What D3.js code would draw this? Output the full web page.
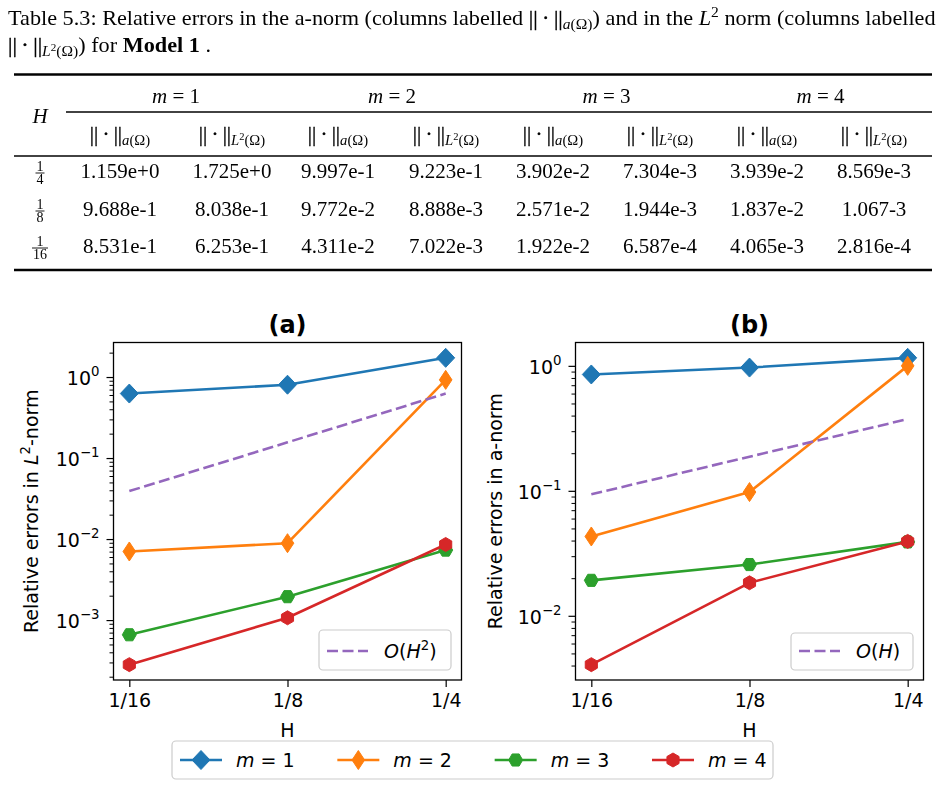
<!DOCTYPE html>
<html><head><meta charset="utf-8">
<script src="https://cdn.jsdelivr.net/npm/d3@7"></script>
<style>body{margin:0;background:#fff}svg{display:block}</style>
</head><body>
<script>
// ---------------- DATA ----------------
const H_ticks = [1/16, 1/8, 1/4];
const H_tickLabels = ["1/16", "1/8", "1/4"];
const seriesNames = ["1", "2", "3", "4"];           // m = ...
const seriesColors = ["#1f77b4", "#ff7f0e", "#2ca02c", "#d62728"];
const seriesMarkers = ["D", "d", "H", "h"];
// L2-norm relative errors at H = 1/16, 1/8, 1/4
const l2_m1 = [0.6253, 0.8038, 1.725];
const l2_m2 = [0.007022, 0.008888, 0.9223];
const l2_m3 = [0.0006587, 0.001944, 0.007304];
const l2_m4 = [0.0002816, 0.001067, 0.008569];
// a-norm relative errors at H = 1/16, 1/8, 1/4
const a_m1 = [0.8531, 0.9688, 1.159];
const a_m2 = [0.04311, 0.09772, 0.9997];
const a_m3 = [0.01922, 0.02571, 0.03902];
const a_m4 = [0.004065, 0.01837, 0.03939];
// reference slopes
const refH2 = [0.0390625, 0.15625, 0.625];
const refH1 = [0.09375, 0.1875, 0.375];

// table
const tableFractions = [["1","4"], ["1","8"], ["1","16"]];
const tableRow1 = ["1.159e+0","1.725e+0","9.997e-1","9.223e-1","3.902e-2","7.304e-3","3.939e-2","8.569e-3"];
const tableRow2 = ["9.688e-1","8.038e-1","9.772e-2","8.888e-3","2.571e-2","1.944e-3","1.837e-2","1.067-3"];
const tableRow3 = ["8.531e-1","6.253e-1","4.311e-2","7.022e-3","1.922e-2","6.587e-4","4.065e-3","2.816e-4"];

// ---------------- HELPERS ----------------
const W = 945, HH = 785;
const svg = d3.select("body").append("svg").attr("width", W).attr("height", HH);

function rich(sel, parts, size) {
  let cur = 0;
  parts.forEach(p => {
    const off = p.off || 0;
    const ts = sel.append("tspan").text(p.t).attr("font-size", size * (p.s || 1));
    if (off !== cur) { ts.attr("dy", off - cur); cur = off; }
    if (p.i) ts.attr("font-style", "italic");
    if (p.b) ts.attr("font-weight", "bold");
    if (p.bar) ts.attr("stroke", "#000").attr("stroke-width", 0.35);
  });
  return sel;
}

function markerPath(type) {
  if (type === "D") return "M0,-9.5L9,0L0,9.5L-9,0Z";
  if (type === "d") return "M0,-9.5L6.3,0L0,9.5L-6.3,0Z";
  const r = 7, pts = [];
  for (let k = 0; k < 6; k++) {
    const a = (type === "H" ? 0 : Math.PI / 2) + k * Math.PI / 3;
    pts.push([r * Math.cos(a), r * Math.sin(a)]);
  }
  return "M" + pts.map(p => p[0].toFixed(2) + "," + p[1].toFixed(2)).join("L") + "Z";
}

// ---------------- TABLE ----------------
const serif = "Liberation Serif";
const tg = svg.append("g").attr("font-family", serif).attr("fill", "#000").style("opacity", 0.995);
const TS = 21;
const NORM = "||\u2009\u00b7\u2009||";

const cap1 = tg.append("g");
const c1 = cap1.append("text").attr("x", 0).attr("y", 0);
rich(c1, [
  {t: "Table 5.3: Relative errors in the a-norm (columns labelled "},
  {t: NORM, bar: true},
  {t: "a", i: true, s: 0.7, off: 4},
  {t: "(\u03a9)", s: 0.7, off: 4},
  {t: ") and in the ", off: 0},
  {t: "L", i: true},
  {t: "2", s: 0.7, off: -8},
  {t: " norm (columns labelled", off: 0}
], 20);
const w1 = c1.node().getComputedTextLength();
const sx = 928 / w1;
cap1.attr("transform", `translate(8,25) scale(${sx},1)`);

const cap2 = tg.append("g").attr("transform", `translate(8,52) scale(${sx},1)`);
const c2 = cap2.append("text").attr("x", 0).attr("y", 0);
rich(c2, [
  {t: NORM, bar: true},
  {t: "L", i: true, s: 0.7, off: 4},
  {t: "2", s: 0.5, off: -1},
  {t: "(\u03a9)", s: 0.7, off: 4},
  {t: ") for ", off: 0},
  {t: "Model 1", b: true},
  {t: " ."}
], 20);

const colX = [120, 232, 338, 446, 553, 660, 767, 874];
const ruleL = 14, ruleR = 932;
tg.append("line").attr("x1", ruleL).attr("x2", ruleR).attr("y1", 74.5).attr("y2", 74.5).attr("stroke", "#000").attr("stroke-width", 2.4);
tg.append("line").attr("x1", 66).attr("x2", ruleR).attr("y1", 112).attr("y2", 112).attr("stroke", "#000").attr("stroke-width", 1.3);
tg.append("line").attr("x1", ruleL).attr("x2", ruleR).attr("y1", 156).attr("y2", 156).attr("stroke", "#000").attr("stroke-width", 1.6);
tg.append("line").attr("x1", ruleL).attr("x2", ruleR).attr("y1", 270).attr("y2", 270).attr("stroke", "#000").attr("stroke-width", 2.4);

rich(tg.append("text").attr("x", 40).attr("y", 123).attr("text-anchor", "middle"), [{t: "H", i: true}], TS);
seriesNames.forEach((m, gi) => {
  const cx = (colX[2 * gi] + colX[2 * gi + 1]) / 2;
  rich(tg.append("text").attr("x", cx).attr("y", 103).attr("text-anchor", "middle"),
    [{t: "m", i: true}, {t: " = " + m}], TS);
  rich(tg.append("text").attr("x", colX[2 * gi]).attr("y", 141).attr("text-anchor", "middle"), [
    {t: NORM, bar: true},
    {t: "a", i: true, s: 0.7, off: 4},
    {t: "(\u03a9)", s: 0.7, off: 4}
  ], TS);
  rich(tg.append("text").attr("x", colX[2 * gi + 1]).attr("y", 141).attr("text-anchor", "middle"), [
    {t: NORM, bar: true},
    {t: "L", i: true, s: 0.7, off: 4},
    {t: "2", s: 0.5, off: -1},
    {t: "(\u03a9)", s: 0.7, off: 4}
  ], TS);
});

const rowBase = [178, 216, 253];
[tableRow1, tableRow2, tableRow3].forEach((row, ri) => {
  const yb = rowBase[ri];
  row.forEach((v, ci) => {
    tg.append("text").attr("x", colX[ci]).attr("y", yb).attr("text-anchor", "middle")
      .attr("font-size", TS).text(v);
  });
  const fr = tableFractions[ri];
  const bar = yb - 5;
  const bw = fr[1].length > 1 ? 16 : 9;
  tg.append("line").attr("x1", 40 - bw / 2).attr("x2", 40 + bw / 2).attr("y1", bar).attr("y2", bar)
    .attr("stroke", "#000").attr("stroke-width", 0.9);
  tg.append("text").attr("x", 40).attr("y", bar - 2.5).attr("text-anchor", "middle").attr("font-size", 14).text(fr[0]);
  tg.append("text").attr("x", 40).attr("y", bar + 11).attr("text-anchor", "middle").attr("font-size", 14).text(fr[1]);
});

// ---------------- CHARTS ----------------
const FS = 19;
const sans = "DejaVu Sans";

function drawChart(cfg) {
  const g = svg.append("g").attr("font-family", sans);
  const lx = H_ticks.map(Math.log2);
  const xpad = (d3.max(lx) - d3.min(lx)) * 0.05;
  const x = d3.scaleLog().base(2)
    .domain([2 ** (d3.min(lx) - xpad), 2 ** (d3.max(lx) + xpad)])
    .range([cfg.l, cfg.r]);
  const allv = cfg.series.flat().concat(cfg.ref).map(Math.log10);
  const lo = d3.min(allv), hi = d3.max(allv), pad = (hi - lo) * 0.05;
  const y = d3.scaleLog().domain([10 ** (lo - pad), 10 ** (hi + pad)]).range([cfg.b, cfg.t]);

  // y ticks
  const kLo = Math.floor(lo - pad), kHi = Math.ceil(hi + pad);
  const majors = [], minors = [];
  for (let k = kLo; k <= kHi; k++) {
    const v = 10 ** k;
    if (v >= y.domain()[0] && v <= y.domain()[1]) majors.push(v);
    for (let mm = 2; mm <= 9; mm++) {
      const w = mm * 10 ** k;
      if (w >= y.domain()[0] && w <= y.domain()[1]) minors.push(w);
    }
  }
  const ax = g.append("g").attr("transform", `translate(${cfg.l},0)`);
  ax.call(d3.axisLeft(y).tickValues(minors).tickSize(4).tickFormat(""));
  ax.call(g2 => g2.selectAll(".tick line").attr("stroke", "#000").attr("stroke-width", 1));
  const axM = g.append("g").attr("transform", `translate(${cfg.l},0)`);
  axM.call(d3.axisLeft(y).tickValues(majors).tickSize(7).tickFormat(""));
  axM.selectAll(".tick line").attr("stroke", "#000").attr("stroke-width", 1.2);
  g.selectAll(".domain").remove();
  majors.forEach(v => {
    const k = Math.round(Math.log10(v));
    rich(g.append("text").attr("x", cfg.l - 14).attr("y", y(v) + 8).attr("text-anchor", "end").attr("fill", "#000"), [
      {t: "10"},
      {t: (k < 0 ? "\u2212" : "") + Math.abs(k), s: 0.7, off: -9}
    ], FS);
  });

  // x axis
  const xa = g.append("g").attr("transform", `translate(0,${cfg.b})`)
    .call(d3.axisBottom(x).tickValues(H_ticks).tickSize(7).tickPadding(7)
      .tickFormat((d, i) => H_tickLabels[i]));
  xa.select(".domain").remove();
  xa.selectAll(".tick line").attr("stroke", "#000").attr("stroke-width", 1.2);
  xa.selectAll("text").attr("font-size", FS).attr("font-family", sans).attr("fill", "#000");

  // series
  const line = d3.line().x(d => x(d[0])).y(d => y(d[1]));
  cfg.series.forEach((vals, si) => {
    const pts = H_ticks.map((h, i) => [h, vals[i]]);
    g.append("path").attr("d", line(pts)).attr("fill", "none")
      .attr("stroke", seriesColors[si]).attr("stroke-width", 2.6).attr("stroke-linejoin", "round");
    g.selectAll(null).data(pts).enter().append("path")
      .attr("d", markerPath(seriesMarkers[si]))
      .attr("transform", d => `translate(${x(d[0])},${y(d[1])})`)
      .attr("fill", seriesColors[si]).attr("stroke", seriesColors[si]).attr("stroke-width", 1);
  });
  const refPts = H_ticks.map((h, i) => [h, cfg.ref[i]]);
  g.append("path").attr("d", line(refPts)).attr("fill", "none")
    .attr("stroke", "#9467bd").attr("stroke-width", 2.6).attr("stroke-dasharray", "11,4.5");

  // frame
  g.append("rect").attr("x", cfg.l).attr("y", cfg.t).attr("width", cfg.r - cfg.l).attr("height", cfg.b - cfg.t)
    .attr("fill", "none").attr("stroke", "#000").attr("stroke-width", 1.3);

  // title
  g.append("text").attr("x", (cfg.l + cfg.r) / 2).attr("y", 333).attr("text-anchor", "middle")
    .attr("font-size", 24).attr("font-weight", "bold").text(cfg.title);
  // xlabel
  g.append("text").attr("x", (cfg.l + cfg.r) / 2).attr("y", 737).attr("text-anchor", "middle")
    .attr("font-size", FS).text("H");
  // ylabel
  rich(g.append("text").attr("transform", `translate(${cfg.l - cfg.ylabOff},${(cfg.t + cfg.b) / 2}) rotate(-90)`)
    .attr("text-anchor", "middle"), cfg.ylabel, FS);

  // legend
  const bx = cfg.r - 10.5 - cfg.legW, by = cfg.b - 10 - cfg.legH;
  g.append("rect").attr("x", bx).attr("y", by).attr("width", cfg.legW).attr("height", cfg.legH)
    .attr("rx", 4).attr("fill", "#fff").attr("fill-opacity", 0.8).attr("stroke", "#cccccc").attr("stroke-width", 1.2);
  const ly = cfg.b - 29;
  g.append("line").attr("x1", bx + 8).attr("x2", bx + 49).attr("y1", ly).attr("y2", ly)
    .attr("stroke", "#9467bd").attr("stroke-width", 2.6).attr("stroke-dasharray", "11,4.5");
  rich(g.append("text").attr("x", bx + 65).attr("y", ly + 7), cfg.legText, FS);
}

drawChart({
  l: 113.5, r: 461.5, t: 342.5, b: 680, title: "(a)",
  series: [l2_m1, l2_m2, l2_m3, l2_m4], ref: refH2,
  ylabOff: 76,
  ylabel: [{t: "Relative errors in "}, {t: "L", i: true}, {t: "2", s: 0.7, off: -8}, {t: "-norm", off: 0}],
  legW: 132, legH: 40,
  legText: [{t: "O", i: true}, {t: "("}, {t: "H", i: true}, {t: "2", s: 0.7, off: -8}, {t: ")", off: 0}]
});
drawChart({
  l: 575.5, r: 923.5, t: 342.5, b: 680, title: "(b)",
  series: [a_m1, a_m2, a_m3, a_m4], ref: refH1,
  ylabOff: 74,
  ylabel: [{t: "Relative errors in a-norm"}],
  legW: 122, legH: 37,
  legText: [{t: "O", i: true}, {t: "("}, {t: "H", i: true}, {t: ")"}]
});

// ---------------- FIGURE LEGEND ----------------
const lg = svg.append("g").attr("font-family", sans);
lg.append("rect").attr("x", 172).attr("y", 741).attr("width", 601).attr("height", 38).attr("rx", 4)
  .attr("fill", "#fff").attr("stroke", "#cccccc").attr("stroke-width", 1.2);
const legX = d3.scalePoint().domain(seriesNames).range([201, 673]);
seriesNames.forEach((m, i) => {
  const cx = legX(m), cy = 760;
  lg.append("line").attr("x1", cx - 21).attr("x2", cx + 21).attr("y1", cy).attr("y2", cy)
    .attr("stroke", seriesColors[i]).attr("stroke-width", 2.6);
  lg.append("path").attr("d", markerPath(seriesMarkers[i])).attr("transform", `translate(${cx},${cy})`)
    .attr("fill", seriesColors[i]).attr("stroke", seriesColors[i]).attr("stroke-width", 1);
  rich(lg.append("text").attr("x", cx + 35).attr("y", cy + 7), [{t: "m", i: true}, {t: " = " + m}], FS);
});
</script>
</body></html>
